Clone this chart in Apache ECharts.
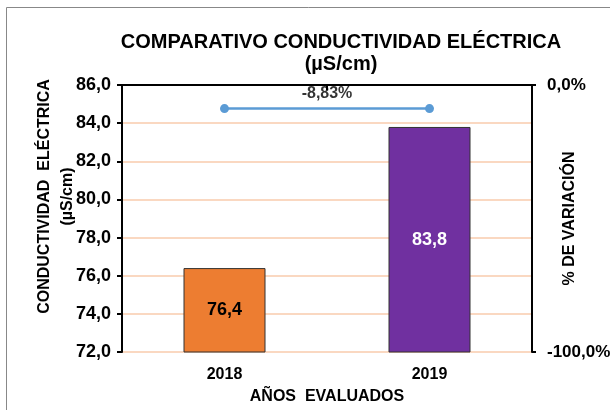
<!DOCTYPE html>
<html><head><meta charset="utf-8">
<script src="https://cdn.jsdelivr.net/npm/echarts@6/dist/echarts.min.js"></script>
<style>html,body{margin:0;padding:0;background:#fff}#c{width:610px;height:410px}</style>
</head><body><div id="c"></div>
<script>
var categories = ['2018', '2019'];
var conductividad = [76.4, 83.8];
var variacion = [-8.83, -8.83];
var variacionLabel = '-8,83%';
var barColors = ['#ED7D31', '#7030A0'];
var barLabelColors = ['#000', '#fff'];

var font = 'Liberation Sans, Arial, sans-serif';
var chart = echarts.init(document.getElementById('c'));
function comma(v, d) { return v.toFixed(d).replace('.', ','); }
var midIndex = (categories.length - 1) / 2;
chart.setOption({
  animation: false,
  textStyle: { fontFamily: font },
  title: {
    text: 'COMPARATIVO CONDUCTIVIDAD ELÉCTRICA\n(µS/cm)',
    left: 336, top: 26, textAlign: 'center',
    textStyle: { fontFamily: font, fontSize: 20, fontWeight: 'bold', color: '#000', lineHeight: 22 }
  },
  graphic: [{
    type: 'rect', shape: { x: 6.5, y: 7.5, width: 620, height: 420 },
    style: { fill: null, stroke: '#888', lineWidth: 1 }, silent: true, z: -1
  }],
  grid: { left: 122, right: 78, top: 85, bottom: 58, outerBoundsMode: 'none', containLabel: false },
  xAxis: [{
    type: 'category', data: categories,
    axisLine: { lineStyle: { color: '#000', width: 2 } },
    axisTick: { show: true, alignWithLabel: false, length: 5, lineStyle: { color: '#000', width: 2 } },
    axisLabel: { color: '#000', fontWeight: 'bold', fontSize: 16, margin: 15, fontFamily: font },
    name: 'AÑOS  EVALUADOS', nameLocation: 'middle', nameGap: 37, nameMoveOverlap: false,
    nameTextStyle: { color: '#000', fontWeight: 'bold', fontSize: 16, fontFamily: font }
  }, {
    type: 'value', min: -0.5, max: categories.length - 0.5, show: false,
    axisLine: { show: false }, splitLine: { show: false }
  }],
  yAxis: [{
    type: 'value', min: 72, max: 86, interval: 2,
    axisLine: { show: true, onZero: false, lineStyle: { color: '#000', width: 2 } },
    axisTick: { show: true, length: 5, lineStyle: { color: '#000', width: 2 } },
    axisLabel: { color: '#000', fontWeight: 'bold', fontSize: 18, margin: 11, fontFamily: font,
      formatter: function (v) { return comma(v, 1); } },
    splitLine: { show: true, lineStyle: { color: '#F8CBAD', width: 1.5 } },
    name: 'CONDUCTIVIDAD  ELÉCTRICA\n(µS/cm)', nameLocation: 'middle', nameGap: 43, nameRotate: 90,
    nameMoveOverlap: false,
    nameTextStyle: { color: '#000', fontWeight: 'bold', fontSize: 16, lineHeight: 23, fontFamily: font,
      padding: [0, 0, 0, 44] }
  }, {
    type: 'value', min: -100, max: 0, interval: 100, position: 'right',
    axisLine: { show: true, onZero: false, lineStyle: { color: '#000', width: 2 } },
    axisTick: { show: true, length: 4, lineStyle: { color: '#000', width: 2 } },
    axisLabel: { color: '#000', fontWeight: 'bold', fontSize: 17, margin: 15, fontFamily: font,
      formatter: function (v) { return comma(v, 1) + '%'; } },
    splitLine: { show: false },
    name: '% DE VARIACIÓN', nameLocation: 'middle', nameGap: 30, nameRotate: 90, nameMoveOverlap: false,
    nameTextStyle: { color: '#000', fontWeight: 'bold', fontSize: 16, fontFamily: font }
  }],
  series: [{
    type: 'bar', yAxisIndex: 0, barWidth: '40%',
    data: conductividad.map(function (v, i) {
      return { value: v, itemStyle: { color: barColors[i], borderColor: '#333', borderWidth: 1 },
        label: { color: barLabelColors[i] } };
    }),
    label: { show: true, position: 'inside', fontWeight: 'bold', fontSize: 18, fontFamily: font,
      formatter: function (p) { return comma(p.value, 1); } }
  }, {
    type: 'line', yAxisIndex: 1, data: variacion,
    symbol: 'circle', symbolSize: 9,
    itemStyle: { color: '#5B9BD5' }, lineStyle: { color: '#5B9BD5', width: 2.5 }
  }, {
    type: 'scatter', xAxisIndex: 1, yAxisIndex: 1, silent: true,
    symbol: 'circle', symbolSize: 2,
    itemStyle: { color: 'rgba(0,0,0,0)' },
    data: [[midIndex, variacion[0]]],
    label: { show: true, position: 'top', distance: 6, formatter: variacionLabel, color: '#000',
      fontWeight: 'bold', fontSize: 16, fontFamily: font }
  }]
});
</script></body></html>
